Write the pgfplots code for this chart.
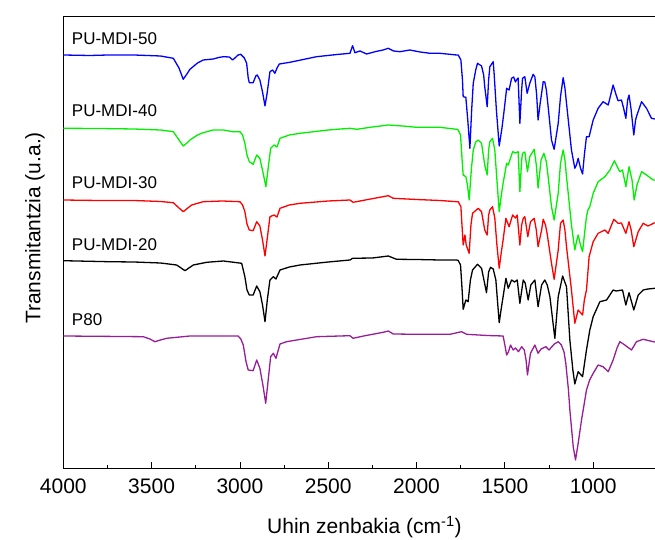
\documentclass[border=0pt]{standalone}
\usepackage{pgfplots}
\pgfplotsset{compat=1.18}
\usepackage{fontspec}
\setmainfont{Liberation Sans}
\definecolor{cblue}{RGB}{0,0,255}
\definecolor{cgreen}{RGB}{0,240,0}
\definecolor{cred}{RGB}{255,0,0}
\definecolor{cpurple}{RGB}{150,30,150}
\begin{document}
\begin{tikzpicture}
\useasboundingbox (0,0) rectangle (655pt,540pt);
\begin{axis}[
  at={(63.3pt,71.7pt)}, anchor=south west,
  width=591.7pt, height=451.8pt, scale only axis,
  x dir=reverse, xmin=650, xmax=4000,
  ymin=-468.3, ymax=-16.5,
  axis x line=box, axis y line*=left,
  axis line style={-, line width=0.9pt},
  xtick={1000,1500,2000,2500,3000,3500,4000},
  minor x tick num=1,
  xtick pos=bottom, ytick=\empty,
  tick align=inside,
  major tick length=6pt, minor tick length=3.5pt,
  every tick/.style={black, line width=0.8pt},
  /pgf/number format/1000 sep={},
  /pgf/number format/assume math mode=true,
  xticklabel style={font=\fontsize{21}{25}\selectfont, yshift=-7pt},
  xlabel={Uhin zenbakia (cm\textsuperscript{-1})},
  ylabel={Transmitantzia (u.a.)},
  every axis x label/.style={at={(rel axis cs:0.509,-0.130)}, anchor=center, font=\fontsize{21}{25}\selectfont},
  every axis y label/.style={at={(rel axis cs:-0.048,0.532)}, rotate=90, anchor=center, font=\fontsize{21}{25}\selectfont},
  clip=true,
  every axis plot/.append style={line width=1.3pt, line join=round},
]
% PU-MDI-50
\addplot[cblue] coordinates {
(4000,-55) (3850,-55.5) (3745,-55) (3600,-55) (3450,-56) (3377,-58.3) (3345,-68) (3321,-79.3) (3300,-74) (3283,-69.3) (3240,-63) (3208,-60)
(3151,-59) (3120,-57.5) (3094,-56.7) (3060,-57) (3041,-60) (3010,-55) (2996,-54.3) (2975,-58) (2962,-63.3) (2953,-78) (2947,-82.7)
(2925,-82.7) (2910,-76) (2902,-75) (2887,-80) (2872,-92) (2858,-106) (2845,-92) (2830,-71.7) (2815,-70) (2802,-73.3) (2790,-68) (2777,-64)
(2717,-62.3) (2566,-56.7) (2450,-54.5) (2377,-53.3) (2362,-45.7) (2349,-52.7) (2320,-51) (2283,-54) (2230,-51.5) (2189,-50) (2160,-48.3)
(2130,-51) (2094,-51.7) (2038,-50) (1980,-52) (1924,-53.3) (1868,-53.3) (1773,-55) (1764,-55) (1749,-60) (1740,-80) (1736,-96.7)
(1721,-97.3) (1710,-120) (1698,-148.3) (1688,-110) (1679,-83.3) (1665,-70) (1655,-63.3) (1632,-66) (1620,-75) (1614,-86.7) (1600,-106.7)
(1592,-80) (1585,-66.7) (1566,-61.7) (1561,-73.3) (1548,-110) (1532,-146) (1518,-130) (1506,-113.3) (1490,-88.3) (1476,-90) (1462,-78.3)
(1450,-77) (1440,-82) (1434,-80) (1425,-78) (1415,-123.3) (1405,-90) (1400,-78.3) (1387,-76.7) (1374,-93.3) (1359,-83.3) (1340,-74.3)
(1330,-77) (1320,-95) (1312,-120) (1300,-103) (1292,-93.3) (1283,-81.7) (1274,-82) (1265,-90) (1255,-106.7) (1236,-140) (1221,-149.3)
(1198,-123.3) (1185,-96.7) (1170,-77.7) (1160,-88) (1151,-103.3) (1123,-150) (1104,-168.3) (1095,-165) (1085,-158.3) (1072,-168) (1060,-174)
(1050,-155) (1038,-136.7) (1023,-136.7) (1000,-120) (972,-108.3) (944,-101.7) (915,-105) (887,-85) (870,-95) (859,-100.7) (840,-100)
(828,-108) (815,-118.3) (805,-100) (797,-95) (785,-110) (770,-135) (760,-120) (752,-115) (726,-101.7) (698,-108.3) (670,-118.3) (651,-119)
};
% PU-MDI-40
\addplot[cgreen] coordinates {
(4000,-128.3) (3800,-128.5) (3600,-129) (3450,-130) (3377,-131.7) (3345,-140) (3321,-146) (3300,-143) (3283,-140) (3240,-135) (3208,-132.7)
(3151,-130) (3094,-130) (3041,-131.7) (3000,-131.7) (2985,-135) (2972,-143.3) (2960,-155) (2947,-161.7) (2925,-164.3) (2905,-155)
(2887,-158.3) (2870,-172) (2853,-186.7) (2840,-168) (2826,-148.3) (2807,-145) (2790,-147) (2773,-138.3) (2720,-135) (2660,-133.3)
(2500,-130) (2377,-128.3) (2339,-129.3) (2250,-127) (2160,-125) (2080,-126) (2000,-127.3) (1868,-127.3) (1773,-129.3) (1764,-130)
(1751,-135) (1742,-160) (1736,-175) (1721,-176.7) (1712,-185) (1702,-200) (1690,-170) (1679,-150) (1665,-142) (1651,-140) (1632,-143.3)
(1614,-165) (1600,-175) (1592,-150) (1585,-141.7) (1570,-138.3) (1557,-150) (1545,-180) (1532,-211.7) (1520,-195) (1510,-183.3)
(1490,-163.3) (1481,-165) (1456,-151.7) (1440,-153) (1425,-151.7) (1415,-191.7) (1405,-160) (1400,-153.3) (1387,-152) (1372,-171.7)
(1359,-156.7) (1334,-149.3) (1322,-165) (1312,-188) (1295,-160) (1279,-153.3) (1265,-162) (1255,-176.7) (1236,-206.7) (1221,-220)
(1198,-193.3) (1185,-163.3) (1170,-150) (1160,-160) (1151,-176.7) (1123,-225) (1104,-250) (1095,-242) (1085,-235) (1072,-245)
(1060,-251.7) (1048,-232) (1038,-216.7) (1030,-210) (1019,-206.7) (1000,-193.3) (972,-181.7) (934,-176.7) (905,-170) (880,-160.7)
(860,-168) (849,-171.7) (834,-170) (815,-186.7) (797,-166.7) (780,-180) (768,-200) (752,-185) (726,-171.7) (698,-175) (660,-180) (651,-180)
};
% PU-MDI-30
\addplot[cred] coordinates {
(4000,-200) (3800,-200.5) (3600,-200.5) (3450,-201.5) (3377,-202.7) (3345,-208) (3321,-211.7) (3295,-208) (3273,-205) (3208,-201.7)
(3100,-201) (3000,-201.7) (2985,-205) (2972,-211.7) (2960,-224) (2947,-230) (2925,-230.7) (2905,-221.7) (2887,-226) (2872,-240)
(2858,-256) (2845,-238) (2830,-216.7) (2807,-215) (2790,-217) (2773,-208.3) (2720,-205) (2660,-203.3) (2500,-201) (2377,-200)
(2359,-202.3) (2260,-199) (2160,-195.7) (2132,-198.3) (2000,-199.5) (1868,-200.5) (1773,-201.7) (1764,-201.7) (1749,-206.7)
(1736,-245) (1726,-235) (1719,-245) (1702,-253.3) (1692,-225) (1683,-213.3) (1651,-208.3) (1632,-211.7) (1614,-230) (1600,-235)
(1592,-215) (1585,-210) (1570,-206.7) (1557,-218) (1545,-245) (1532,-268.3) (1520,-252) (1510,-240) (1494,-218.3) (1476,-226.7)
(1456,-215) (1440,-218) (1430,-215) (1415,-245) (1405,-225) (1396,-218.3) (1387,-216.7) (1370,-236.7) (1355,-221.7) (1334,-218.3)
(1322,-230) (1312,-246.7) (1292,-230) (1283,-219.3) (1270,-225) (1261,-233.3) (1236,-263.3) (1221,-279.3) (1198,-250) (1185,-223.3)
(1170,-220) (1160,-230) (1151,-246.7) (1123,-290) (1104,-323.3) (1085,-310) (1060,-315) (1050,-300) (1038,-290) (1023,-256.7)
(1000,-241.7) (972,-233.3) (934,-230) (915,-233.3) (883,-219.3) (859,-223.3) (840,-223) (828,-228) (815,-233.3) (797,-221.7)
(785,-230) (770,-246.7) (745,-231.7) (717,-223.3) (690,-226) (651,-222.7)
};
% PU-MDI-20
\addplot[black] coordinates {
(4000,-260.7) (3745,-261.7) (3600,-262) (3450,-263) (3358,-265) (3311,-270.7) (3264,-265) (3188,-262.3) (3094,-261) (2990,-263.3)
(2972,-276.7) (2960,-290) (2947,-295) (2925,-295) (2905,-286) (2887,-291.7) (2872,-305) (2858,-321.7) (2845,-300) (2830,-280)
(2811,-276.7) (2796,-279) (2773,-270) (2720,-267) (2660,-265) (2500,-262) (2377,-260) (2362,-258.3) (2250,-258) (2160,-256)
(2113,-259.3) (2000,-259.5) (1868,-260) (1773,-260) (1764,-260.5) (1751,-265) (1742,-290) (1736,-309.3) (1721,-300) (1708,-301.7)
(1695,-280) (1683,-270) (1655,-264.3) (1632,-268.3) (1604,-292.7) (1592,-272) (1581,-267.3) (1566,-269) (1551,-280) (1540,-305)
(1532,-322.7) (1520,-308) (1510,-296.7) (1494,-278.3) (1481,-288.3) (1462,-280) (1445,-282) (1430,-280) (1415,-303.3) (1396,-280)
(1385,-283) (1368,-300) (1353,-285) (1330,-280) (1312,-306.7) (1292,-285) (1274,-280) (1260,-285) (1245,-296.7) (1217,-338.3)
(1198,-296.7) (1173,-276) (1151,-286.7) (1132,-340) (1115,-370) (1104,-384) (1085,-371.7) (1060,-376.7) (1038,-350) (1019,-330)
(1000,-316.7) (962,-301.7) (924,-300) (887,-290) (870,-291) (834,-290) (815,-305) (797,-292.7) (770,-310) (745,-295) (717,-290)
(690,-289) (651,-288.3)
};
% P80
\addplot[cpurple] coordinates {
(4000,-336) (3800,-336.3) (3547,-336.7) (3510,-339) (3481,-341.7) (3450,-340) (3415,-338.3) (3283,-336) (3010,-336) (2995,-339)
(2981,-345) (2965,-362) (2953,-370) (2925,-370.7) (2905,-360) (2887,-368.3) (2870,-385) (2854,-403.3) (2840,-380) (2826,-356.7)
(2811,-353.3) (2796,-358.3) (2773,-344) (2736,-341.7) (2566,-336.7) (2377,-335.7) (2359,-338.3) (2300,-336) (2189,-332.3)
(2160,-331) (2132,-334) (2000,-334.3) (1811,-334.3) (1745,-331.7) (1717,-334.3) (1600,-335.5) (1510,-336) (1500,-345)
(1490,-355) (1480,-352) (1468,-345) (1453,-350) (1440,-348) (1423,-351.7) (1405,-346.7) (1390,-350) (1380,-360) (1372,-375)
(1355,-353.3) (1330,-345) (1312,-353.3) (1295,-349) (1268,-346.7) (1250,-350) (1220,-344) (1198,-341.7) (1180,-345) (1165,-352)
(1155,-363.3) (1140,-390) (1132,-410) (1113,-446.7) (1100,-460) (1085,-443.3) (1066,-420) (1050,-403) (1038,-390) (1020,-380)
(1000,-373.3) (972,-365) (944,-366.7) (915,-371.7) (887,-360) (865,-348) (849,-341.7) (821,-345) (783,-350) (755,-341.7)
(717,-339.3) (660,-341.7) (651,-342)
};
\node[anchor=west, inner sep=0pt, font=\fontsize{17}{20}\selectfont] at (axis cs:3952,-39) {PU-MDI-50};
\node[anchor=west, inner sep=0pt, font=\fontsize{17}{20}\selectfont] at (axis cs:3952,-111) {PU-MDI-40};
\node[anchor=west, inner sep=0pt, font=\fontsize{17}{20}\selectfont] at (axis cs:3952,-183) {PU-MDI-30};
\node[anchor=west, inner sep=0pt, font=\fontsize{17}{20}\selectfont] at (axis cs:3952,-245) {PU-MDI-20};
\node[anchor=west, inner sep=0pt, font=\fontsize{17}{20}\selectfont] at (axis cs:3952,-320) {P80};
\end{axis}
\end{tikzpicture}
\end{document}
